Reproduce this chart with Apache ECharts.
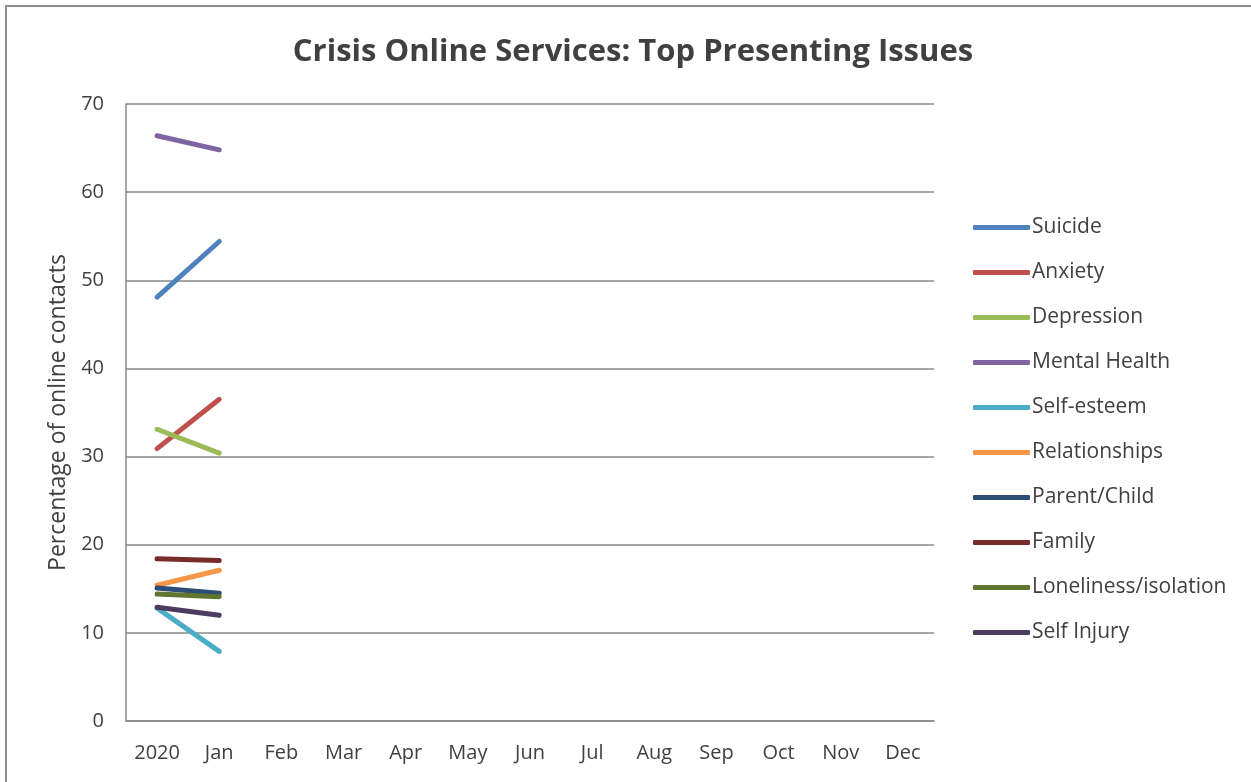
<!DOCTYPE html>
<html>
<head>
<meta charset="utf-8">
<script src="https://cdn.jsdelivr.net/npm/echarts@6/dist/echarts.min.js"></script>
<style>
  html, body { margin: 0; padding: 0; background: #fff; }
  #frame { position: absolute; left: 5px; top: 5px; width: 1260px; height: 800px;
           border-left: 2px solid #8c8c8c; border-top: 2px solid #8c8c8c; box-sizing: border-box; }
  #chart { position: absolute; left: 0; top: 0; width: 1251px; height: 782px; }
</style>
</head>
<body>
<div id="frame"></div>
<div id="chart"></div>
<script>
// Month categories (first slot is the 2020 baseline)
const categories = ['2020', 'Jan', 'Feb', 'Mar', 'Apr', 'May', 'Jun', 'Jul', 'Aug', 'Sep', 'Oct', 'Nov', 'Dec'];

// Percentage of online contacts per presenting issue
const suicide       = [48.1, 54.4];
const anxiety       = [30.9, 36.5];
const depression    = [33.1, 30.4];
const mentalHealth  = [66.4, 64.8];
const selfEsteem    = [12.8, 7.9];
const relationships = [15.4, 17.1];
const parentChild   = [15.1, 14.5];
const family        = [18.4, 18.2];
const loneliness    = [14.4, 14.1];
const selfInjury    = [12.9, 12.0];

const yTicks = { min: 0, max: 70, interval: 10 };

const seriesDefs = [
  ['Suicide', suicide, '#4F81BD'],
  ['Anxiety', anxiety, '#C0504D'],
  ['Depression', depression, '#9BBB59'],
  ['Mental Health', mentalHealth, '#8064A2'],
  ['Self-esteem', selfEsteem, '#4BACC6'],
  ['Relationships', relationships, '#F79646'],
  ['Parent/Child', parentChild, '#2C4D75'],
  ['Family', family, '#772C2A'],
  ['Loneliness/isolation', loneliness, '#5F7530'],
  ['Self Injury', selfInjury, '#4D3B62']
];

const font = '"Open Sans", Lato, sans-serif';
const chart = echarts.init(document.getElementById('chart'));

chart.setOption({
  animation: false,
  backgroundColor: 'transparent',
  title: {
    text: 'Crisis Online Services: Top Presenting Issues',
    left: 628, top: 32, textAlign: 'center',
    textStyle: { fontFamily: font, fontSize: 31, fontWeight: 'bold', color: '#404040' }
  },
  legend: {
    orient: 'vertical',
    left: 973, top: 217, padding: 0,
    itemWidth: 57, itemHeight: 5, itemGap: 24,
    icon: 'roundRect',
    textStyle: { fontFamily: font, fontSize: 21, color: '#404040', lineHeight: 21, padding: [0, 0, 0, -3] },
    data: seriesDefs.map(d => d[0])
  },
  grid: { left: 126, right: 317, top: 104, bottom: 61, containLabel: false },
  xAxis: {
    type: 'category',
    data: categories,
    boundaryGap: true,
    axisLine: { lineStyle: { color: '#888', width: 1.5 } },
    axisTick: { show: false },
    axisLabel: { fontFamily: font, fontSize: 20, color: '#404040', margin: 22 }
  },
  yAxis: {
    type: 'value',
    min: yTicks.min, max: yTicks.max, interval: yTicks.interval,
    name: 'Percentage of online contacts',
    nameLocation: 'middle', nameGap: 56,
    nameTextStyle: { fontFamily: font, fontSize: 23, color: '#404040' },
    axisLine: { show: true, lineStyle: { color: '#888', width: 1.5 } },
    axisTick: { show: false },
    axisLabel: { fontFamily: font, fontSize: 20, color: '#404040', margin: 22 },
    splitLine: { lineStyle: { color: '#888', width: 1.5 } }
  },
  series: seriesDefs.map(([name, values, color]) => ({
    name, type: 'line', data: values,
    symbol: 'none', showSymbol: false,
    color,
    lineStyle: { width: 5, color, cap: 'round' },
    itemStyle: { color }
  }))
});
</script>
</body>
</html>
